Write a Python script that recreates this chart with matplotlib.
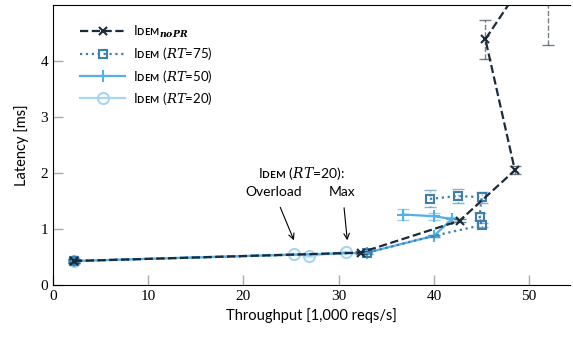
import matplotlib
matplotlib.use("Agg")
from matplotlib import pyplot as plt

plt.rcParams["font.family"] = ["Lato", "DejaVu Sans"]
plt.rcParams["mathtext.fontset"] = "dejavuserif"

# Idem without PR
nopr_x = [2.2, 32.3, 42.7, 48.5, 45.4, 52.0]
nopr_y = [0.43, 0.58, 1.15, 2.05, 4.39, 6.07]
nopr_err = [0.03, 0.02, 0.03, 0.07, 0.35, 1.78]

# Idem RT=75
rt75_x = [2.2, 33.0, 40.0, 45.0, 44.8, 45.0, 42.5, 39.6]
rt75_y = [0.43, 0.58, 0.88, 1.07, 1.22, 1.57, 1.59, 1.54]
rt75_err = [0.03, 0.02, 0.02, 0.04, 0.06, 0.1, 0.12, 0.15]

# Idem RT=50
rt50_x = [2.2, 33.0, 40.0, 41.9, 40.0, 36.7]
rt50_y = [0.43, 0.58, 0.88, 1.18, 1.23, 1.26]
rt50_err = [0.02, 0.02, 0.02, 0.03, 0.06, 0.1]

# Idem RT=20
rt20_x = [2.2, 25.3, 26.9, 30.8]
rt20_y = [0.43, 0.55, 0.52, 0.59]
rt20_err = [0.02, 0.02, 0.02, 0.02]

xticks = [0, 10, 20, 30, 40, 50]
yticks = [0, 1, 2, 3, 4]

SC = "I\u1d05\u1d07\u1d0d"  # small caps Idem

fig = plt.figure(figsize=(5.73, 3.37), dpi=100)
ax = fig.add_axes([0.0925, 0.154, 0.9025, 0.831])

series = [
    (rt20_x, rt20_y, rt20_err, "#a8d6f0", "-", "o", 8, SC + r" ($RT$=20)", None),
    (rt50_x, rt50_y, rt50_err, "#55b0e6", "-", "+", 9, SC + r" ($RT$=50)", None),
    (rt75_x, rt75_y, rt75_err, "#3d7eaa", ":", "s", 6, SC + r" ($RT$=75)",
     [0, 1, 3, 4, 5, 6, 7]),
    (nopr_x, nopr_y, nopr_err, "#1c2b39", "--", "x", 6, SC + r"$_{\mathbfit{noPR}}$", None),
]
handles = []
for x, y, e, c, ls, mk, ms, lab, every in series:
    eb = ax.errorbar(x, y, yerr=e, fmt="none", ecolor=c, alpha=0.6,
                     elinewidth=1.0, capsize=4, capthick=1.0)
    for lc in eb[2]:
        lc.set_linestyle(ls)
    (h,) = ax.plot(x, y, linestyle=ls, color=c, lw=1.6, marker=mk, ms=ms,
                   mfc="none", mew=1.5, label=lab, markevery=every)
    handles.append(h)

ax.legend(handles=handles[::-1], loc="upper left", frameon=False,
          numpoints=1, handlelength=3.4, fontsize=9.5, handletextpad=0.6,
          bbox_to_anchor=(0.03, 0.975), labelspacing=0.4)

ax.text(26.05, 2.0, SC + r" ($RT$=20):", ha="center", va="center", fontsize=10)
ax.annotate("Overload", xy=(25.3, 0.8), xytext=(23.2, 1.66), ha="center",
            va="center", fontsize=10,
            arrowprops=dict(arrowstyle="->", color="black", lw=0.8,
                            shrinkA=5, shrinkB=0))
ax.annotate("Max", xy=(30.9, 0.8), xytext=(30.4, 1.66), ha="center",
            va="center", fontsize=10,
            arrowprops=dict(arrowstyle="->", color="black", lw=0.8,
                            shrinkA=5, shrinkB=0))

ax.set_xlim(0, 54.3)
ax.set_ylim(0, 5)
ax.set_xticks(xticks)
ax.set_yticks(yticks)
for lbl in ax.get_xticklabels() + ax.get_yticklabels():
    lbl.set_fontfamily("Liberation Serif")
    lbl.set_fontsize(11)
ax.tick_params(direction="in", length=7, color="#aaaaaa", width=1)
ax.spines["right"].set_visible(False)
ax.set_xlabel("Throughput [1,000 reqs/s]", fontsize=10.5)
ax.set_ylabel("Latency [ms]", fontsize=10.5, labelpad=8)

fig.savefig("out.png", dpi=100)
